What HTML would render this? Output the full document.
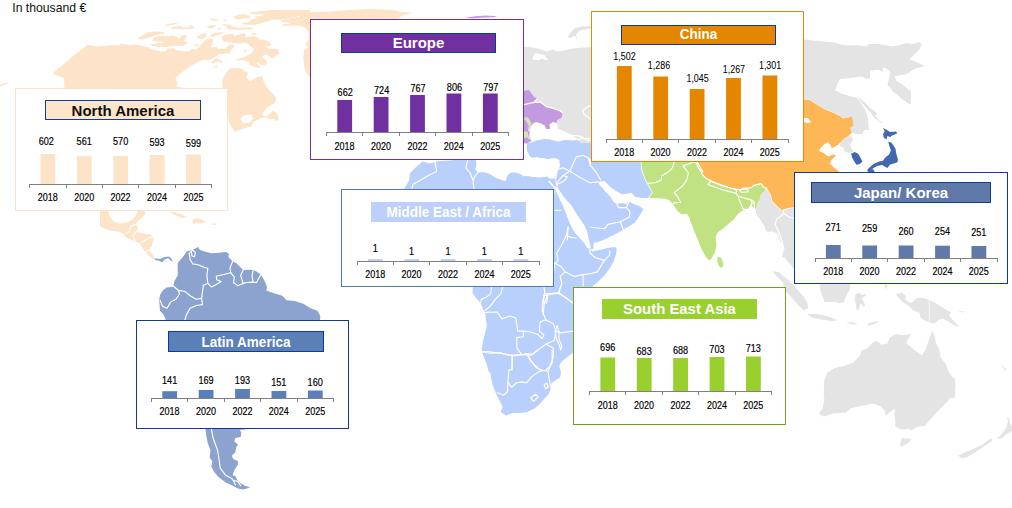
<!DOCTYPE html>
<html><head><meta charset="utf-8"><title>Regional overview</title>
<style>
html,body{margin:0;padding:0;background:#ffffff;}
body{width:1012px;height:508px;overflow:hidden;font-family:"Liberation Sans",sans-serif;}
svg{display:block;font-family:"Liberation Sans",sans-serif;}
</style></head>
<body>
<svg width="1012" height="508" viewBox="0 0 1012 508">
<rect width="1012" height="508" fill="#ffffff"/>
<g id="map">
<path d="M64.5 90.0 L64.0 78.0 L53.0 74.0 L53.5 72.5 L60.0 67.0 L67.0 61.2 L75.0 54.5 L87.5 45.0 L97.5 46.5 L110.0 45.5 L120.0 45.0 L122.5 90.0Z" fill="#fde4c8"/>
<path d="M0.0 84.5 L7.5 82.5 L8.0 83.5 L1.2 86.0 L0.0 86.5Z" fill="#fde4c8"/>
<path d="M120.0 43.4 L130.6 45.2 L146.6 47.8 L160.7 51.7 L178.4 50.5 L190.8 52.8 L197.9 48.2 L203.2 42.5 L208.5 38.6 L213.0 39.3 L212.1 44.3 L210.3 47.8 L218.3 51.4 L213.9 54.9 L205.0 58.4 L196.1 62.9 L187.3 68.2 L179.3 74.4 L175.3 78.8 L177.6 82.3 L176.7 86.8 L187.3 88.5 L187.3 92.1 L120.0 92.1Z" fill="#fde4c8"/>
<path d="M163.6 25.3 L169.5 23.8 L176.4 22.8 L177.4 23.8 L172.5 24.8 L166.6 26.0Z" fill="#fde4c8"/>
<path d="M170.5 27.8 L176.4 26.3 L181.4 26.3 L184.3 27.8 L189.3 27.3 L189.8 25.3 L192.7 25.3 L193.2 27.3 L195.7 27.3 L194.2 28.6 L189.3 29.0 L183.4 29.3 L177.4 28.8 L172.5 29.0Z" fill="#fde4c8"/>
<path d="M137.9 37.7 L142.8 35.2 L147.8 32.2 L154.7 31.2 L164.6 32.2 L163.6 33.7 L157.7 34.7 L152.7 36.2 L148.8 37.7 L143.8 39.2 L139.9 39.6Z" fill="#fde4c8"/>
<path d="M152.2 38.2 L157.7 36.2 L163.6 35.9 L169.5 36.2 L173.5 35.7 L177.4 37.2 L179.4 38.7 L182.4 35.2 L186.3 34.9 L186.8 36.7 L185.3 39.2 L183.9 41.1 L186.3 42.1 L188.3 43.4 L185.3 44.6 L183.4 46.1 L179.4 45.8 L174.5 46.1 L169.5 46.4 L162.6 47.1 L155.7 47.1 L149.8 44.6 L155.7 43.6 L163.6 42.6 L164.6 41.8 L157.7 41.4 L151.7 40.6 L153.7 39.2Z" fill="#fde4c8"/>
<path d="M195.7 36.2 L199.2 35.9 L201.1 33.7 L205.1 33.2 L207.1 34.2 L206.1 36.7 L203.1 38.7 L199.2 38.7Z" fill="#fde4c8"/>
<path d="M192.7 45.1 L197.2 44.1 L199.2 45.6 L196.2 46.6Z" fill="#fde4c8"/>
<path d="M206.6 26.3 L212.0 25.3 L216.0 25.3 L214.0 27.3 L209.1 28.8Z" fill="#fde4c8"/>
<path d="M217.5 28.8 L221.9 28.0 L220.9 29.3 L218.4 29.8Z" fill="#fde4c8"/>
<path d="M211.0 18.4 L215.0 18.9 L217.9 19.4 L217.5 20.7 L213.5 20.1Z" fill="#fde4c8"/>
<path d="M223.4 19.9 L227.3 19.7 L227.3 20.7 L223.9 20.9Z" fill="#fde4c8"/>
<path d="M222.4 24.3 L230.0 24.8 L230.0 29.8 L227.8 29.3 L226.8 26.3 L222.9 25.3Z" fill="#fde4c8"/>
<path d="M211.0 36.2 L215.0 33.7 L218.9 32.2 L223.9 32.2 L221.9 33.7 L217.0 35.2 L213.0 36.9Z" fill="#fde4c8"/>
<path d="M203.1 42.6 L206.1 39.6 L210.0 38.7 L213.0 39.6 L212.5 42.6 L210.0 44.1 L212.0 45.6 L211.0 48.0 L216.0 47.1 L217.5 48.0 L216.0 51.5 L217.9 53.5 L221.9 52.0 L225.8 49.0 L230.0 45.6 L230.0 53.5 L224.9 53.5 L218.9 54.5 L215.0 56.9 L209.1 60.0 L130.0 60.0 L130.0 45.1 L135.9 44.6 L141.9 46.1 L149.8 47.5 L145.8 49.5 L147.8 51.0 L159.6 50.7 L161.6 52.0 L166.6 50.5 L167.5 48.5 L173.5 48.3 L175.5 50.0 L181.4 51.5 L189.3 51.3 L191.3 49.0 L195.2 49.0 L192.3 53.5 L197.2 50.5 L201.1 48.0 L204.1 46.1 L203.1 44.1Z" fill="#fde4c8"/>
<path d="M221.9 35.7 L230.0 33.7 L230.0 42.6 L226.8 42.1 L222.9 41.6 L224.9 39.6 L221.9 38.7Z" fill="#fde4c8"/>
<path d="M249.5 12.5 L261.4 11.0 L273.2 10.0 L310.0 10.0 L310.0 13.0 L304.9 14.0 L298.9 15.4 L296.0 16.9 L285.1 18.9 L279.2 19.9 L273.2 19.4 L269.3 20.9 L264.3 22.4 L259.4 23.8 L255.5 24.8 L247.5 24.8 L240.6 24.3 L244.6 22.4 L249.5 21.9 L250.5 19.9 L256.4 17.9 L254.5 16.4 L263.4 15.4 L263.4 14.4 L252.5 14.0Z" fill="#fde4c8"/>
<path d="M233.2 16.4 L239.6 14.4 L245.6 14.4 L250.5 16.4 L249.5 17.9 L243.6 18.4 L239.6 19.4 L235.7 18.9Z" fill="#fde4c8"/>
<path d="M226.8 26.3 L229.8 24.8 L232.7 26.8 L239.6 27.8 L249.5 27.3 L254.5 28.3 L251.5 29.3 L242.6 29.8 L234.7 29.8 L228.8 29.3Z" fill="#fde4c8"/>
<path d="M221.9 39.6 L224.8 36.7 L229.8 34.2 L233.7 33.7 L234.2 36.2 L239.6 34.2 L244.6 33.2 L246.1 36.2 L244.6 37.7 L249.5 36.7 L254.5 36.2 L258.4 37.7 L259.4 39.6 L265.3 40.1 L269.3 42.1 L271.8 44.6 L269.3 46.1 L266.3 47.1 L269.3 49.0 L273.2 50.0 L278.2 53.5 L275.2 55.9 L272.3 58.4 L269.3 56.4 L266.3 54.0 L263.4 55.0 L262.4 57.4 L263.9 60.0 L235.7 60.0 L242.6 57.4 L247.5 55.5 L251.5 53.5 L255.0 50.5 L253.5 48.0 L250.5 46.6 L247.5 43.6 L244.6 42.6 L239.6 43.6 L233.7 43.1 L228.8 42.1 L223.8 41.6Z" fill="#fde4c8"/>
<path d="M249.5 33.2 L254.5 32.9 L256.9 34.2 L253.5 34.7Z" fill="#fde4c8"/>
<path d="M210.0 34.7 L214.0 33.2 L219.9 32.2 L223.8 32.2 L220.9 33.7 L215.9 35.7 L212.0 37.2Z" fill="#fde4c8"/>
<path d="M210.0 38.7 L212.5 39.6 L213.0 42.6 L210.0 43.6Z" fill="#fde4c8"/>
<path d="M210.0 25.8 L214.0 24.8 L215.9 25.8 L213.0 27.8 L210.0 28.8Z" fill="#fde4c8"/>
<path d="M217.9 28.3 L221.9 27.8 L219.9 29.3Z" fill="#fde4c8"/>
<path d="M210.0 49.5 L214.0 47.5 L216.9 47.1 L215.9 51.5 L219.9 52.5 L224.8 49.5 L228.8 45.1 L232.7 44.6 L235.2 46.1 L231.7 49.0 L227.8 52.5 L221.9 54.0 L217.9 54.0 L214.0 56.4 L210.0 58.4Z" fill="#fde4c8"/>
<path d="M243.6 50.5 L247.5 49.3 L246.6 51.0 L244.1 51.7Z" fill="#fde4c8"/>
<path d="M210.0 18.9 L214.0 18.9 L217.9 19.9 L216.9 20.7 L212.0 20.4Z" fill="#fde4c8"/>
<path d="M222.8 19.9 L226.8 19.7 L225.8 20.7Z" fill="#fde4c8"/>
<path d="M234.7 59.9 L242.6 58.4 L247.5 56.9 L251.5 53.5 L254.5 49.0 L278.2 49.0 L279.2 54.0 L275.2 55.9 L272.3 57.9 L269.3 55.4 L266.3 54.0 L262.9 55.4 L262.4 57.4 L265.3 59.4 L267.3 61.9 L266.3 64.8 L264.3 65.8 L260.4 64.3 L256.4 62.4 L259.4 66.3 L260.4 68.3 L256.4 67.3 L251.5 65.8 L248.5 64.8 L249.5 62.8 L246.6 60.9 L242.6 59.9 L238.7 60.7Z" fill="#fde4c8"/>
<path d="M210.0 58.9 L214.0 55.9 L218.9 54.0 L224.8 53.0 L230.8 51.5 L231.7 49.0 L210.0 49.0Z" fill="#fde4c8"/>
<path d="M211.0 62.8 L214.0 59.9 L216.9 57.9 L219.9 59.4 L222.8 61.9 L221.9 63.3 L218.9 61.4 L215.9 61.9 L213.0 63.8Z" fill="#fde4c8"/>
<path d="M214.0 67.3 L216.9 65.8 L217.9 66.8 L214.9 68.0Z" fill="#fde4c8"/>
<path d="M221.9 79.6 L226.3 76.7 L228.3 69.8 L230.3 68.3 L235.7 68.8 L239.6 68.3 L243.6 70.8 L248.0 72.7 L247.1 75.7 L246.1 78.7 L249.5 81.6 L253.5 80.1 L257.4 78.2 L261.4 75.9 L262.9 80.6 L264.3 84.6 L263.4 88.0 L266.3 90.0 L269.3 92.0 L272.7 93.5 L273.7 96.4 L275.7 97.9 L276.0 100.0 L226.8 100.0 L226.8 88.5 L222.4 88.0 L222.8 82.6Z" fill="#fde4c8"/>
<path d="M280.2 20.4 L285.7 19.2 L292.0 18.0 L296.8 17.6 L299.9 16.8 L299.1 15.6 L296.8 14.8 L301.5 13.7 L307.8 12.5 L314.1 11.9 L331.4 11.7 L331.4 45.9 L305.8 45.9 L305.4 44.0 L307.0 42.0 L309.8 39.6 L309.4 38.1 L307.0 38.5 L309.0 36.5 L308.6 33.3 L307.4 30.2 L305.4 27.4 L301.5 25.9 L293.6 25.6 L284.2 25.9 L281.8 24.3 L290.9 23.9 L290.5 22.7 L281.8 21.9Z" fill="#fde4c8"/>
<path d="M268.4 10.1 L309.4 10.1 L309.4 10.7 L303.9 11.7 L297.6 12.9 L292.0 14.4 L285.7 16.0 L279.4 16.8 L273.1 18.0 L273.1 19.6 L268.4 20.0Z" fill="#fde4c8"/>
<path d="M330.0 11.5 L350.0 10.0 L370.0 9.0 L395.0 10.0 L400.0 12.0 L413.0 12.5 L402.0 15.5 L398.0 19.5 L330.0 19.5Z" fill="#fde4c8"/>
<path d="M312.1 37.2 L309.4 38.1 L307.7 47.8 L304.1 50.5 L303.2 58.4 L305.0 70.8 L312.1 79.7Z" fill="#fde4c8"/>
<path d="M226.9 88.3 L222.1 84.8 L223.0 77.7 L226.6 72.4 L229.2 68.9 L235.4 68.0 L242.5 68.9 L245.2 72.4 L246.9 77.7 L249.6 81.3 L253.1 79.5 L258.4 76.8 L262.0 75.9 L262.9 79.5 L265.5 84.8 L269.1 90.1 L274.4 95.4 L276.1 98.1 L275.3 102.5 L270.8 105.2 L267.3 107.8 L263.8 111.4 L262.0 114.9 L265.5 116.7 L270.8 113.1 L272.6 110.5 L276.1 113.1 L278.8 116.7 L277.9 120.2 L275.3 121.1 L274.4 118.4 L269.9 119.3 L265.5 117.6 L260.2 118.4 L253.1 122.0 L251.4 126.4 L244.3 128.2 L235.4 131.7 L233.6 129.9 L231.0 126.4 L229.2 122.0 L228.3 118.4 L224.8 118.4 L224.8 88.3Z" fill="#fde4c8"/>
<path d="M240.4 118.8 L244.3 115.3 L251.4 114.2 L253.1 118.4 L249.6 122.3 L243.4 123.4Z" fill="#ffffff"/>
<path d="M100.0 209.8 L108.0 209.8 L109.7 216.6 L114.2 221.9 L119.5 223.6 L126.6 222.8 L131.9 220.1 L135.4 216.6 L137.2 213.0 L138.1 209.8 L144.3 209.8 L145.2 213.9 L141.6 218.3 L138.1 221.0 L135.4 224.5 L138.1 227.2 L136.3 231.6 L142.5 233.4 L150.5 234.3 L154.0 236.4 L153.1 241.4 L151.4 246.7 L148.7 250.2 L151.4 252.9 L154.0 256.4 L154.9 259.1 L152.2 259.1 L147.8 254.6 L144.3 251.1 L141.6 246.7 L139.8 243.1 L135.4 241.4 L130.1 239.6 L125.7 236.9 L123.0 233.4 L117.7 231.6 L110.6 230.7 L105.3 229.0 L100.0 226.3Z" fill="#fde4c8"/>
<path d="M135.4 224.5 L131.0 226.3 L129.2 231.6 L125.7 233.4" fill="none" stroke="#ffffff" stroke-width="1.15" stroke-linejoin="round" stroke-linecap="round"/>
<path d="M136.3 231.6 L132.8 236.0 L135.4 240.5" fill="none" stroke="#ffffff" stroke-width="1.15" stroke-linejoin="round" stroke-linecap="round"/>
<path d="M154.0 236.4 L147.8 238.7 L141.6 242.2" fill="none" stroke="#ffffff" stroke-width="1.15" stroke-linejoin="round" stroke-linecap="round"/>
<path d="M148.7 250.2 L145.2 252.0" fill="none" stroke="#ffffff" stroke-width="1.15" stroke-linejoin="round" stroke-linecap="round"/>
<path d="M170.8 211.3 L177.9 213.0 L186.8 216.6 L183.2 218.3 L176.1 215.7 L170.8 213.0Z" fill="#fde4c8"/>
<path d="M193.0 219.2 L199.2 218.3 L206.3 221.9 L200.9 223.6 L196.5 222.8 L193.9 224.5 L192.1 221.9Z" fill="#fde4c8"/>
<path d="M211.6 223.5 L216.0 223.5 L216.0 224.7 L211.6 224.7Z" fill="#fde4c8"/>
<path d="M154.9 258.2 L160.2 259.1 L164.6 256.9 L169.1 256.4 L171.7 259.1 L172.6 261.7 L170.8 260.8 L168.2 258.2 L164.6 259.4 L162.0 262.6 L159.3 260.8 L154.9 259.9Z" fill="#8ca3cf"/>
<path d="M167.1 323.2 L163.5 314.4 L160.0 310.8 L159.1 300.2 L160.0 294.9 L162.7 290.5 L167.1 286.9 L173.3 286.0 L174.2 281.6 L177.7 275.4 L177.7 263.0 L183.0 256.8 L186.6 251.5 L192.8 249.7 L198.1 247.1 L199.8 249.7 L204.3 251.5 L211.4 253.3 L218.4 252.8 L226.4 252.0 L229.1 254.2 L228.2 256.8 L232.6 261.3 L236.1 263.0 L240.6 267.4 L243.2 270.1 L250.3 269.8 L255.6 271.0 L260.9 274.5 L264.5 280.7 L267.1 286.9 L266.3 290.5 L273.3 293.1 L282.2 295.8 L286.6 300.2 L294.6 301.1 L303.4 303.8 L310.5 308.2 L317.6 310.8 L320.3 316.1 L319.9 323.2Z" fill="#8ca3cf"/>
<path d="M192.8 249.7 L189.2 253.3 L190.1 259.5 L192.8 263.9 L198.1 264.8 L204.3 267.4 L207.8 268.3 L206.9 275.4 L207.8 283.4 L203.4 285.2" fill="none" stroke="#ffffff" stroke-width="1.15" stroke-linejoin="round" stroke-linecap="round"/>
<path d="M192.8 250.3 L195.4 252.4 L194.5 256.8 L191.9 255.9 L191.5 252.4" fill="none" stroke="#ffffff" stroke-width="1.15" stroke-linejoin="round" stroke-linecap="round"/>
<path d="M207.8 283.4 L211.4 286.9 L216.7 284.3 L221.1 281.6 L216.7 279.8 L216.3 276.3 L223.8 274.5 L230.8 272.8 L229.9 268.3 L232.6 261.3" fill="none" stroke="#ffffff" stroke-width="1.15" stroke-linejoin="round" stroke-linecap="round"/>
<path d="M230.8 272.8 L234.4 277.2 L233.5 282.5 L237.9 285.7 L243.2 283.4 L246.8 282.5 L252.1 282.1 L256.5 282.5 L260.9 274.5" fill="none" stroke="#ffffff" stroke-width="1.15" stroke-linejoin="round" stroke-linecap="round"/>
<path d="M243.2 283.4 L240.6 275.4 L243.2 270.1" fill="none" stroke="#ffffff" stroke-width="1.15" stroke-linejoin="round" stroke-linecap="round"/>
<path d="M253.0 282.1 L252.1 275.4 L253.0 271.0" fill="none" stroke="#ffffff" stroke-width="1.15" stroke-linejoin="round" stroke-linecap="round"/>
<path d="M167.1 286.9 L173.3 286.0 L178.6 290.5 L179.5 294.0 L175.9 299.3 L170.6 302.0 L167.1 308.2 L162.7 306.4 L160.0 300.2" fill="none" stroke="#ffffff" stroke-width="1.15" stroke-linejoin="round" stroke-linecap="round"/>
<path d="M178.6 290.5 L184.8 291.4 L190.1 295.8 L196.3 299.3 L201.6 298.4 L203.4 285.2" fill="none" stroke="#ffffff" stroke-width="1.15" stroke-linejoin="round" stroke-linecap="round"/>
<path d="M201.6 298.4 L202.5 304.6 L196.3 305.5 L190.1 308.2 L186.6 314.4 L184.8 320.0" fill="none" stroke="#ffffff" stroke-width="1.15" stroke-linejoin="round" stroke-linecap="round"/>
<path d="M205.2 425.6 L206.0 434.5 L207.8 443.3 L210.5 450.4 L209.6 457.5 L212.2 461.0 L211.4 466.4 L214.0 471.7 L218.4 477.0 L225.5 482.3 L232.6 485.8 L237.9 488.5 L243.2 489.4 L250.3 487.6 L245.0 485.8 L240.6 483.2 L237.0 479.6 L235.3 476.1 L232.6 475.2 L234.4 469.9 L237.9 464.6 L237.9 461.0 L233.5 459.3 L231.7 455.7 L235.3 452.2 L236.1 447.8 L237.9 444.2 L234.4 441.6 L235.3 438.0 L240.6 437.1 L241.5 432.7 L239.7 430.1 L251.2 428.8 L251.2 425.6Z" fill="#8ca3cf"/>
<path d="M211.4 428.8 L213.1 438.0 L217.6 450.4 L219.3 461.0 L220.2 468.1 L225.5 475.2 L230.8 477.9 L233.5 480.5 L235.3 484.9" fill="none" stroke="#ffffff" stroke-width="1.15" stroke-linejoin="round" stroke-linecap="round"/>
<path d="M233.5 480.5 L237.9 481.4 L240.6 485.8" fill="none" stroke="#ffffff" stroke-width="1.15" stroke-linejoin="round" stroke-linecap="round"/>
<path d="M521.5 46.4 L530.3 46.9 L539.2 48.7 L546.3 51.4 L553.3 49.6 L556.9 51.4 L564.0 50.5 L571.0 48.7 L579.9 47.8 L592.3 46.9 L592.3 92.1 L521.5 92.1Z" fill="#e4e4e4"/>
<path d="M535.6 53.1 L544.5 54.9 L548.4 60.6 L540.9 58.8 L536.5 62.3 L532.1 58.4Z" fill="#ffffff"/>
<path d="M592.3 25.7 L581.7 26.6 L574.6 28.3 L570.2 32.8 L567.5 37.2 L571.0 38.1 L574.6 35.4 L577.2 39.3 L576.0 34.5 L579.9 30.5 L592.3 28.3Z" fill="#e4e4e4"/>
<path d="M464.8 17.7 L475.4 16.3 L486.0 15.6 L497.6 16.3 L493.1 17.2 L480.7 17.7 L471.9 18.6Z" fill="#c39ae0"/>
<path d="M522.7 60.0 L591.8 60.0 L591.8 150.3 L522.7 150.3Z" fill="#e4e4e4"/>
<path d="M522.7 91.0 L528.9 90.1 L531.6 93.6 L534.2 97.2 L537.8 98.1 L534.2 101.6 L529.8 103.4 L522.7 104.3Z" fill="#c39ae0"/>
<path d="M522.7 105.7 L531.6 103.4 L540.4 102.5 L545.7 106.9 L552.8 108.7 L559.9 111.4 L562.6 113.1 L561.7 117.6 L557.2 120.2 L556.4 122.9 L552.8 122.0 L549.3 124.6 L550.2 128.2 L546.6 129.1 L544.8 125.5 L540.4 122.9 L535.1 122.0 L531.6 124.6 L529.8 126.4 L526.3 120.2 L522.7 116.7Z" fill="#c39ae0"/>
<path d="M524.5 116.7 L528.0 117.6 L531.6 122.9 L529.8 125.9 L527.1 122.9Z" fill="#d3e8a4"/>
<path d="M522.7 118.4 L526.3 121.1 L528.9 126.4 L528.0 130.8 L529.8 132.6 L528.0 137.9 L531.6 140.6 L527.1 143.2 L522.7 144.1Z" fill="#c39ae0"/>
<path d="M522.7 131.2 L527.7 131.7 L528.4 137.6 L522.7 137.9Z" fill="#d3e8a4"/>
<path d="M522.7 105.0 L531.6 102.7 L540.4 102.0 L545.7 106.4 L552.8 108.2 L559.9 110.8 L562.7 112.8" fill="none" stroke="#ffffff" stroke-width="1.15" stroke-linejoin="round" stroke-linecap="round"/>
<path d="M534.2 101.6 L537.8 98.1" fill="none" stroke="#ffffff" stroke-width="1.15" stroke-linejoin="round" stroke-linecap="round"/>
<path d="M529.8 132.6 L531.6 125.9 L535.1 122.3 L540.4 123.4 L544.8 125.9 L546.6 129.4 L550.7 128.5 L549.6 124.8 L553.2 122.3 L556.7 123.2 L558.1 129.1 L565.2 131.7 L572.3 135.3 L577.6 139.7 L572.3 140.6 L565.2 139.7 L558.1 141.5 L551.0 139.7 L544.0 138.8 L536.9 140.6 L531.6 141.5Z" fill="#ffffff"/>
<path d="M544.7 125.7 L550.3 128.4 L546.8 129.2Z" fill="#c39ae0"/>
<path d="M522.7 148.5 L526.3 146.8 L531.6 143.2 L536.9 140.6 L544.0 139.3 L551.0 139.7 L558.1 141.8 L565.2 140.0 L572.3 140.8 L577.6 140.0 L581.1 143.2 L583.8 146.8 L586.5 150.3 L522.7 150.3Z" fill="#b9cffc"/>
<path d="M577.6 140.0 L582.9 137.9 L588.2 140.6 L591.8 139.7" fill="none" stroke="#ffffff" stroke-width="1.15" stroke-linejoin="round" stroke-linecap="round"/>
<path d="M572.3 135.3 L579.4 136.1 L584.7 138.8 L591.8 137.9" fill="none" stroke="#ffffff" stroke-width="1.15" stroke-linejoin="round" stroke-linecap="round"/>
<path d="M591.8 105.2 L587.3 106.9 L582.9 110.5 L583.8 114.0 L587.3 116.7 L591.8 120.2" fill="none" stroke="#ffffff" stroke-width="1.15" stroke-linejoin="round" stroke-linecap="round"/>
<path d="M801.6 39.0 L813.2 40.6 L824.8 41.8 L834.1 42.3 L843.4 45.3 L857.3 45.3 L866.6 46.4 L869.0 44.1 L878.2 44.1 L892.2 46.4 L899.2 45.3 L906.1 43.0 L913.1 44.1 L920.1 41.8 L921.7 45.3 L918.9 49.9 L914.2 54.6 L909.6 59.2 L915.4 61.5 L924.7 66.2 L915.4 68.5 L906.1 74.3 L899.2 75.5 L894.5 76.6 L896.8 81.3 L902.6 84.8 L908.4 89.4 L910.8 95.2 L909.6 104.5 L901.5 98.7 L894.5 91.7 L887.5 84.8 L888.7 80.1 L890.3 72.0 L886.4 68.5 L882.9 67.3 L882.9 72.0 L878.2 69.7 L870.1 70.8 L870.1 77.8 L866.6 79.0 L862.0 76.6 L852.7 77.8 L839.9 79.0 L837.6 83.6 L835.3 89.4 L833.7 92.9 L838.8 94.8 L848.1 95.7 L855.0 98.7 L859.7 102.2 L863.2 106.8 L865.5 111.5 L867.8 118.0 L869.0 130.1 L801.6 130.1Z" fill="#e4e4e4"/>
<path d="M858.5 97.5 L864.3 102.2 L871.3 109.2 L877.1 113.8 L874.8 116.1 L869.0 110.3 L862.0 103.3Z" fill="#e4e4e4"/>
<path d="M800.6 98.9 L809.5 99.7 L816.6 104.2 L825.4 109.5 L832.5 112.1 L839.6 115.7 L843.1 118.3 L848.4 117.4 L852.0 116.6 L852.9 121.0 L853.8 125.4 L850.2 128.1 L852.0 132.5 L848.4 136.0 L844.0 138.7 L841.4 141.4 L837.8 144.9 L833.4 147.6 L831.6 148.4 L830.7 144.9 L828.1 142.2 L824.5 144.0 L820.1 148.4 L819.2 151.1 L823.6 152.9 L828.1 156.4 L833.4 154.6 L836.0 155.5 L831.6 159.9 L829.8 163.5 L833.4 167.0 L837.8 170.6 L841.4 175.0 L736.9 175.0 L736.9 98.9Z" fill="#fdb757"/>
<path d="M800.6 98.3 L809.5 99.2 L816.6 103.6 L825.4 108.9 L832.5 111.6 L839.6 115.1 L843.1 117.8" fill="none" stroke="#ffffff" stroke-width="1.2" stroke-linejoin="round" stroke-linecap="round"/>
<path d="M802.8 117.4 L807.7 118.3 L811.3 121.9 L807.7 122.9 L802.8 121.9Z" fill="#ffffff"/>
<path d="M800.6 90.0 L834.3 90.0 L841.4 93.5 L850.2 96.2 L857.3 98.0 L860.8 103.3 L864.4 108.6 L867.0 114.8 L866.5 121.9 L865.3 128.1 L862.6 133.4 L858.2 134.3 L853.8 133.4 L852.0 132.5 L850.2 128.1 L853.8 125.4 L852.9 121.0 L852.0 116.6 L848.4 117.4 L843.1 118.3 L839.6 115.7 L832.5 112.1 L825.4 109.5 L816.6 104.2 L809.5 99.7 L800.6 98.9Z" fill="#e4e4e4"/>
<path d="M841.4 141.4 L844.0 138.7 L848.4 136.0 L852.0 136.4 L852.9 140.5 L850.2 144.0 L851.1 148.4 L853.8 151.1 L850.2 152.9 L844.9 152.0 L843.1 147.6 L839.6 145.8Z" fill="#e4e4e4"/>
<path d="M858.2 97.1 L862.6 100.6 L869.7 107.7 L876.8 113.0 L875.0 114.8 L878.5 120.1 L883.0 123.6 L880.3 122.8 L875.0 118.3 L867.9 109.5 L860.8 101.5Z" fill="#e4e4e4"/>
<path d="M890.9 90.0 L910.4 90.0 L911.3 95.3 L910.4 100.6 L911.3 104.2 L906.9 101.5 L899.8 96.2 L894.5 92.7Z" fill="#e4e4e4"/>
<path d="M883.0 128.1 L886.5 129.8 L890.1 132.1 L896.3 131.6 L897.1 133.4 L892.7 135.2 L890.1 136.9 L887.4 136.0 L886.5 139.6 L883.9 137.8 L883.0 134.3 L884.7 131.6Z" fill="#4268b0"/>
<path d="M888.3 141.4 L891.8 143.1 L895.4 148.4 L896.3 153.8 L898.0 159.9 L897.1 162.6 L893.6 163.5 L890.1 164.4 L887.4 167.9 L884.7 166.5 L882.1 165.1 L877.1 166.1 L873.6 167.9 L870.9 170.2 L867.9 171.8 L867.2 169.7 L870.0 166.9 L873.6 164.0 L878.5 161.7 L883.0 160.8 L884.7 158.2 L886.5 156.4 L889.2 154.6 L890.9 150.2 L889.2 145.8Z" fill="#4268b0"/>
<path d="M868.8 169.7 L873.2 169.3 L875.4 173.2 L867.6 173.2Z" fill="#4268b0"/>
<path d="M851.1 153.8 L854.6 152.0 L858.2 153.8 L860.8 158.2 L862.3 161.7 L859.9 164.0 L856.4 164.7 L853.8 160.8 L852.0 157.3Z" fill="#4268b0"/>
<path d="M640.6 160.6 L697.3 160.6 L699.9 166.8 L702.6 171.3 L701.7 173.9 L706.1 178.3 L713.2 181.9 L722.1 185.4 L730.9 188.1 L739.8 189.8 L743.3 188.1 L750.4 188.1 L754.0 185.4 L761.0 183.6 L763.7 187.2 L766.4 188.1 L764.6 191.6 L761.0 194.3 L760.2 198.7 L757.5 203.1 L756.6 207.6 L754.8 211.1 L753.1 206.7 L750.4 204.9 L748.6 209.3 L745.1 210.2 L741.6 211.1 L736.3 215.5 L730.9 219.9 L726.5 224.4 L722.1 228.8 L717.7 232.3 L715.0 236.8 L714.6 240.0 L698.2 240.0 L695.5 233.2 L692.0 224.4 L689.3 217.3 L686.7 213.8 L681.4 214.6 L676.9 210.2 L673.4 204.9 L669.8 200.5 L665.4 198.7 L656.6 198.2 L649.5 198.2 L648.6 196.0 L652.1 192.5 L649.5 188.1 L645.9 183.6 L643.3 176.6 L640.6 169.5Z" fill="#c0e283"/>
<path d="M690.0 210.0 L741.4 210.0 L737.8 213.5 L734.3 218.9 L728.1 224.2 L721.9 229.5 L716.6 233.0 L715.7 238.3 L716.6 245.4 L714.8 252.5 L711.3 258.7 L709.5 260.5 L705.9 256.9 L701.5 249.0 L698.0 240.1 L694.4 231.3 L691.8 224.2 L690.0 220.6Z" fill="#c0e283"/>
<path d="M718.0 256.4 L721.0 257.8 L723.3 263.1 L722.8 267.0 L720.1 267.6 L718.0 264.0 L717.1 259.6Z" fill="#c0e283"/>
<path d="M674.3 162.0 L672.5 167.7 L668.1 172.1 L661.9 175.7 L661.0 180.1 L654.8 182.8 L645.9 183.6" fill="none" stroke="#ffffff" stroke-width="1.15" stroke-linejoin="round" stroke-linecap="round"/>
<path d="M683.1 165.9 L688.4 173.0 L686.7 180.1 L682.2 186.3 L674.3 192.5 L677.8 196.9 L680.5 202.2 L673.4 203.1" fill="none" stroke="#ffffff" stroke-width="1.15" stroke-linejoin="round" stroke-linecap="round"/>
<path d="M683.1 165.9 L687.6 164.2 L693.8 162.0 L696.4 163.3 L698.2 167.7 L701.7 172.1" fill="none" stroke="#ffffff" stroke-width="1.15" stroke-linejoin="round" stroke-linecap="round"/>
<path d="M707.9 184.5 L710.6 181.0 L722.1 185.4 L736.3 189.8 L736.3 193.4 L722.1 189.8 L707.9 184.5" fill="none" stroke="#ffffff" stroke-width="1.15" stroke-linejoin="round" stroke-linecap="round"/>
<path d="M738.0 196.0 L743.3 197.8 L750.4 199.6 L752.2 203.1 L748.6 209.3 L743.3 209.3 L739.8 201.4 L738.0 196.0" fill="none" stroke="#ffffff" stroke-width="1.15" stroke-linejoin="round" stroke-linecap="round"/>
<path d="M739.8 189.8 L746.9 189.0 L748.6 191.6 L741.6 192.5 L739.8 189.8" fill="none" stroke="#ffffff" stroke-width="1.15" stroke-linejoin="round" stroke-linecap="round"/>
<path d="M736.3 193.4 L738.0 196.0" fill="none" stroke="#ffffff" stroke-width="1.15" stroke-linejoin="round" stroke-linecap="round"/>
<path d="M750.4 199.6 L754.0 201.4 L754.8 211.1" fill="none" stroke="#ffffff" stroke-width="1.15" stroke-linejoin="round" stroke-linecap="round"/>
<path d="M640.6 162.0 L640.6 169.5 L643.3 176.6 L645.9 183.6 L649.5 188.1 L652.1 192.5 L648.6 196.0 L647.7 198.2" fill="none" stroke="#ffffff" stroke-width="1.15" stroke-linejoin="round" stroke-linecap="round"/>
<path d="M697.3 160.6 L800.0 160.6 L800.0 172.0 L796.5 172.0 L796.5 207.6 L789.4 208.4 L785.8 209.3 L782.3 211.1 L778.8 208.4 L775.2 204.9 L771.7 201.4 L770.8 196.0 L768.1 191.6 L766.4 188.1 L763.7 187.2 L761.0 183.6 L754.0 185.4 L750.4 188.1 L743.3 188.1 L739.8 189.8 L730.9 188.1 L722.1 185.4 L713.2 181.9 L706.1 178.3 L701.7 173.9 L702.6 171.3 L699.9 166.8Z" fill="#fdb757"/>
<path d="M697.3 162.0 L699.9 166.8 L702.6 171.3 L701.7 173.9 L706.1 178.3 L713.2 181.9 L722.1 185.4 L730.9 188.1 L739.8 189.8 L743.3 188.1 L750.4 188.1 L754.0 185.4 L761.0 183.6 L763.7 187.2 L766.4 188.1 L768.1 191.6 L770.8 196.0 L771.7 201.4 L775.2 204.9 L778.8 208.4 L782.3 211.1 L785.8 209.3 L789.4 208.4 L796.5 207.6" fill="none" stroke="#ffffff" stroke-width="1.15" stroke-linejoin="round" stroke-linecap="round"/>
<path d="M766.4 188.1 L768.1 191.6 L770.8 196.0 L771.7 201.4 L775.2 204.9 L778.8 208.4 L782.3 211.1 L785.8 209.3 L796.5 207.6 L796.5 242.1 L780.5 242.1 L777.0 233.2 L771.7 231.5 L768.1 227.9 L764.6 220.8 L760.2 216.4 L756.6 212.0 L756.6 207.6 L757.5 203.1 L760.2 198.7 L761.0 194.3 L764.6 191.6Z" fill="#e4e4e4"/>
<path d="M782.3 211.1 L780.5 215.5 L775.2 220.8 L774.3 224.4 L777.0 229.7 L780.5 240.0" fill="none" stroke="#ffffff" stroke-width="1.15" stroke-linejoin="round" stroke-linecap="round"/>
<path d="M785.8 209.3 L787.6 213.8 L784.1 217.3 L786.7 220.8 L785.8 225.3 L794.0 226.1" fill="none" stroke="#ffffff" stroke-width="1.15" stroke-linejoin="round" stroke-linecap="round"/>
<path d="M755.5 210.0 L796.3 210.0 L796.3 270.2 L791.8 266.7 L789.2 263.1 L786.5 260.5 L784.7 257.8 L782.1 256.9 L783.0 252.5 L784.7 248.1 L782.1 243.6 L780.3 240.1 L778.5 234.8 L776.8 230.4 L773.2 229.5 L769.7 232.1 L766.1 231.3 L764.4 225.9 L760.8 220.6 L757.3 215.3Z" fill="#e4e4e4"/>
<path d="M783.9 210.0 L782.1 215.3 L776.8 218.9 L775.0 224.2 L778.5 231.3 L781.2 238.3 L783.0 245.4" fill="none" stroke="#ffffff" stroke-width="1.15" stroke-linejoin="round" stroke-linecap="round"/>
<path d="M783.9 213.5 L789.2 217.1 L793.9 218.0" fill="none" stroke="#ffffff" stroke-width="1.15" stroke-linejoin="round" stroke-linecap="round"/>
<path d="M772.3 271.1 L778.5 272.0 L783.9 276.4 L789.2 280.8 L794.5 286.1 L798.9 291.5 L803.3 296.8 L805.1 302.1 L796.3 302.1 L793.6 295.0 L789.2 289.7 L784.7 284.4 L779.4 279.1 L775.0 274.6Z" fill="#e4e4e4"/>
<path d="M820.2 285.3 L849.4 284.4 L850.3 289.7 L845.8 293.2 L842.3 298.5 L837.0 302.1 L824.6 302.1 L821.9 293.2Z" fill="#e4e4e4"/>
<path d="M783.5 282.1 L789.4 285.6 L795.4 289.2 L802.4 295.1 L807.2 302.2 L808.3 308.1 L803.6 310.4 L797.7 304.5 L791.8 297.4 L783.5 289.2Z" fill="#e4e4e4"/>
<path d="M807.2 314.0 L815.4 314.0 L824.9 315.6 L834.3 318.7 L837.9 320.4 L830.8 321.1 L821.3 319.4 L811.9 317.5Z" fill="#e4e4e4"/>
<path d="M846.1 321.8 L853.2 322.2 L858.0 324.6 L850.9 324.1Z" fill="#e4e4e4"/>
<path d="M867.4 323.4 L874.5 321.8 L879.2 321.1 L874.5 324.1 L868.6 325.8Z" fill="#e4e4e4"/>
<path d="M820.2 282.1 L850.9 282.1 L849.7 289.2 L846.1 296.3 L843.8 302.2 L839.1 303.3 L834.3 301.0 L827.2 301.0 L822.5 296.3 L820.2 289.2Z" fill="#e4e4e4"/>
<path d="M855.6 293.9 L860.3 292.7 L861.5 295.1 L866.2 293.9 L865.0 296.3 L861.5 298.6 L865.0 304.5 L863.9 306.9 L860.3 303.3 L859.1 309.3 L856.8 310.4 L855.6 303.3 L854.4 298.6Z" fill="#e4e4e4"/>
<path d="M883.9 284.4 L887.5 285.6 L886.3 289.6Z" fill="#e4e4e4"/>
<path d="M895.8 293.9 L901.7 292.7 L906.4 296.3 L905.2 299.8 L911.1 303.3 L915.8 298.6 L921.7 297.4 L928.8 299.8 L935.9 303.3 L945.4 309.3 L951.3 312.8 L948.9 315.2 L953.6 321.1 L959.5 327.0 L954.8 325.8 L947.7 321.1 L943.0 318.7 L938.3 319.9 L934.7 323.4 L928.8 322.2 L924.1 319.9 L920.6 317.5 L919.4 312.8 L913.5 310.4 L908.8 305.7 L902.8 302.2 L899.3 298.6Z" fill="#e4e4e4"/>
<path d="M929.3 299.3 L929.3 322.7" fill="none" stroke="#ffffff" stroke-width="0.8" stroke-linejoin="round" stroke-linecap="round"/>
<path d="M823.7 397.8 L824.4 381.3 L827.2 373.0 L834.3 368.3 L843.8 366.0 L853.2 362.4 L860.3 355.3 L861.5 350.6 L867.4 348.2 L873.3 342.3 L876.9 341.1 L881.6 344.7 L887.5 343.5 L889.9 337.6 L895.8 334.1 L902.8 335.2 L911.1 334.1 L907.6 340.0 L906.4 343.5 L912.3 348.2 L918.2 353.0 L921.7 355.3 L925.3 350.6 L927.6 343.5 L930.0 336.4 L932.4 330.5 L934.7 336.4 L935.9 343.5 L939.5 349.4 L940.6 357.7 L945.4 363.6 L948.9 371.9 L953.6 378.9 L955.3 386.0 L954.8 397.8Z" fill="#e4e4e4"/>
<path d="M957.2 310.4 L964.3 311.6 L966.6 309.3 L963.1 312.8Z" fill="#e4e4e4"/>
<path d="M1000.9 364.3 L1006.8 369.5 L1005.6 370.7Z" fill="#e4e4e4"/>
<path d="M824.9 377.8 L823.8 388.7 L824.3 399.5 L822.7 408.2 L819.1 413.6 L823.8 416.8 L832.5 413.6 L845.5 412.5 L850.9 408.2 L862.8 405.6 L873.6 403.8 L880.1 406.0 L884.5 410.3 L885.5 415.7 L890.9 411.4 L895.3 408.2 L894.2 414.6 L895.3 421.1 L895.3 426.6 L901.8 429.8 L908.3 428.7 L911.5 430.2 L918.0 426.6 L924.5 425.9 L929.9 420.1 L936.4 412.5 L942.9 406.0 L948.3 400.6 L952.7 393.0 L955.5 386.5 L954.8 377.8Z" fill="#e4e4e4"/>
<path d="M901.8 438.0 L911.5 438.9 L908.3 443.2 L900.7 447.1 L900.0 442.8Z" fill="#e4e4e4"/>
<path d="M958.1 455.8 L964.6 452.5 L973.2 448.9 L981.9 445.0 L990.6 438.5 L992.7 440.6 L986.2 445.0 L977.6 450.4 L967.8 456.9 L962.4 458.4Z" fill="#e4e4e4"/>
<path d="M997.1 438.9 L1002.5 433.1 L1006.8 426.6 L1007.9 420.1 L1006.8 416.8 L1009.0 417.9 L1010.0 423.3 L1012.0 426.6 L1012.0 430.9 L1006.8 434.1 L1001.4 438.5Z" fill="#e4e4e4"/>
<path d="M403.0 190.8 L409.2 180.2 L410.1 173.1 L415.4 167.8 L422.5 161.6 L429.6 163.4 L434.9 162.1 L440.2 161.1 L450.8 160.4 L465.0 158.1 L475.6 158.1 L476.5 164.3 L475.6 168.7 L478.3 172.2 L484.5 172.2 L489.8 174.0 L495.1 177.6 L502.2 180.2 L505.7 181.1 L507.5 174.9 L511.9 172.2 L518.1 173.1 L523.4 175.8 L530.5 176.7 L539.4 177.6 L546.5 176.7 L550.0 178.4 L557.1 178.4 L557.1 190.8Z" fill="#b9cffc"/>
<path d="M434.9 162.1 L436.7 171.4 L427.8 175.8 L419.0 181.1 L412.8 184.6 L411.9 189.1" fill="none" stroke="#ffffff" stroke-width="1.15" stroke-linejoin="round" stroke-linecap="round"/>
<path d="M467.7 159.8 L465.9 167.8 L470.3 173.1 L473.0 180.2 L473.9 189.1" fill="none" stroke="#ffffff" stroke-width="1.15" stroke-linejoin="round" stroke-linecap="round"/>
<path d="M475.6 168.7 L478.3 172.2 L474.7 176.7 L473.0 180.2" fill="none" stroke="#ffffff" stroke-width="1.15" stroke-linejoin="round" stroke-linecap="round"/>
<path d="M523.4 175.8 L524.3 189.1" fill="none" stroke="#ffffff" stroke-width="1.15" stroke-linejoin="round" stroke-linecap="round"/>
<path d="M527.0 146.6 L530.5 143.9 L537.6 142.1 L544.7 140.4 L550.0 139.5 L550.0 158.1 L544.7 157.2 L539.4 158.1 L535.8 155.4 L530.5 154.5 L527.9 151.0Z" fill="#b9cffc"/>
<path d="M519.4 142.9 L590.9 142.9 L590.9 160.6 L640.7 160.6 L641.6 169.5 L645.1 179.2 L652.2 192.5 L648.6 198.2 L639.8 197.8 L634.5 196.4 L632.7 192.5 L628.3 193.4 L622.1 194.3 L616.8 191.6 L611.5 188.1 L607.9 184.5 L604.4 181.0 L598.2 181.9 L599.9 185.4 L602.6 188.1 L606.1 192.5 L610.6 196.9 L613.2 201.4 L616.8 204.0 L622.1 203.1 L626.5 204.0 L629.2 201.4 L631.8 203.1 L636.3 204.9 L640.7 206.7 L643.3 209.3 L640.7 213.8 L638.0 218.2 L634.5 222.6 L629.2 226.1 L623.9 228.8 L618.5 230.6 L613.2 232.3 L607.9 234.1 L600.8 236.8 L595.5 238.5 L591.1 240.0 L590.2 240.0 L589.3 233.2 L586.7 227.9 L583.1 222.6 L578.7 217.3 L575.2 211.1 L571.6 205.8 L565.4 200.5 L560.1 193.4 L556.6 188.1 L553.0 185.4 L548.6 181.9 L550.4 179.2 L554.8 179.2 L556.6 174.8 L558.3 169.5 L560.1 165.9 L559.2 159.7 L554.8 158.0 L547.7 158.9 L538.9 157.1 L530.0 158.0 L519.4 158.0Z" fill="#b9cffc"/>
<path d="M588.4 223.2 L591.1 230.3 L589.3 235.6 L591.1 242.7 L597.3 242.2 L604.4 239.5 L611.5 236.0 L618.5 232.4 L623.9 228.9 L630.9 225.0 L636.3 221.5Z" fill="#b9cffc"/>
<path d="M519.4 176.6 L530.0 176.6 L533.5 177.4 L540.6 178.3 L547.7 176.6 L548.6 181.9 L551.3 187.2 L553.9 191.6 L556.6 196.0 L560.1 203.1 L562.8 205.8 L565.4 211.1 L567.2 217.3 L569.8 222.6 L572.5 227.0 L576.0 229.7 L579.6 235.0 L583.1 240.0 L583.1 249.2 L519.4 249.2Z" fill="#b9cffc"/>
<path d="M571.6 223.2 L576.0 232.1 L581.4 238.3 L586.7 243.6 L589.3 247.1 L592.0 251.6 L600.8 249.8 L607.9 248.0 L615.0 247.1 L616.8 248.9 L615.9 255.1 L613.2 262.2 L609.7 268.4 L604.4 275.5 L599.1 280.8 L593.8 285.2 L590.2 288.8 L583.1 299.4 L581.4 317.1 L512.3 317.1 L512.3 223.2Z" fill="#b9cffc"/>
<path d="M472.9 282.5 L472.5 292.8 L475.7 297.4 L480.4 303.0 L483.2 309.6 L485.0 312.4 L486.0 319.9 L486.9 325.5 L485.0 332.9 L483.2 340.4 L481.9 347.0 L482.2 351.6 L484.1 357.2 L486.9 364.7 L488.8 372.2 L557.9 372.2 L558.9 364.7 L562.6 361.0 L568.2 356.3 L574.8 351.6 L574.8 282.5Z" fill="#b9cffc"/>
<path d="M481.4 348.2 L483.1 355.3 L486.7 362.4 L490.2 371.3 L491.1 378.3 L492.9 385.4 L495.5 392.5 L498.2 397.8 L500.8 403.1 L502.6 406.7 L500.8 412.0 L506.1 415.5 L513.2 412.9 L520.3 412.9 L527.4 412.0 L534.5 408.4 L539.8 404.0 L544.2 398.7 L548.6 394.3 L550.4 389.8 L551.3 383.6 L555.7 380.1 L560.2 377.4 L561.0 372.1 L559.3 366.8 L560.2 362.4 L564.6 358.0 L569.9 353.5 L574.3 350.9 L574.3 348.2Z" fill="#b9cffc"/>
<path d="M556.6 188.1 L558.3 181.0 L562.8 175.7 L569.8 171.3 L573.4 163.3 L576.0 157.1 L583.1 155.3 L588.4 158.0 L590.9 160.6" fill="none" stroke="#ffffff" stroke-width="1.15" stroke-linejoin="round" stroke-linecap="round"/>
<path d="M569.8 171.3 L581.4 178.3 L590.2 182.8 L598.2 181.9" fill="none" stroke="#ffffff" stroke-width="1.15" stroke-linejoin="round" stroke-linecap="round"/>
<path d="M590.2 165.1 L595.5 171.3 L600.8 180.1" fill="none" stroke="#ffffff" stroke-width="1.15" stroke-linejoin="round" stroke-linecap="round"/>
<path d="M588.4 158.0 L590.2 165.1 L590.9 160.6" fill="none" stroke="#ffffff" stroke-width="1.15" stroke-linejoin="round" stroke-linecap="round"/>
<path d="M562.8 175.7 L567.2 176.6 L565.4 180.1 L559.2 183.6" fill="none" stroke="#ffffff" stroke-width="1.15" stroke-linejoin="round" stroke-linecap="round"/>
<path d="M558.3 169.5 L562.8 167.7 L569.8 171.3" fill="none" stroke="#ffffff" stroke-width="1.15" stroke-linejoin="round" stroke-linecap="round"/>
<path d="M616.8 204.0 L618.5 207.6 L626.5 207.6 L629.2 201.4" fill="none" stroke="#ffffff" stroke-width="1.15" stroke-linejoin="round" stroke-linecap="round"/>
<path d="M626.5 207.6 L630.1 212.0 L629.2 217.3 L620.3 221.7 L607.9 224.4 L604.4 228.8 L589.3 227.0 L588.4 233.2" fill="none" stroke="#ffffff" stroke-width="1.15" stroke-linejoin="round" stroke-linecap="round"/>
<path d="M620.3 221.7 L623.0 228.8" fill="none" stroke="#ffffff" stroke-width="1.15" stroke-linejoin="round" stroke-linecap="round"/>
<path d="M640.7 160.6 L641.6 169.5 L645.1 179.2 L652.2 192.5 L648.6 198.2" fill="none" stroke="#ffffff" stroke-width="0.9" stroke-linejoin="round" stroke-linecap="round"/>
<path d="M553.0 210.2 L565.4 210.2" fill="none" stroke="#ffffff" stroke-width="1.15" stroke-linejoin="round" stroke-linecap="round"/>
<path d="M568.1 227.9 L567.2 240.0" fill="none" stroke="#ffffff" stroke-width="1.15" stroke-linejoin="round" stroke-linecap="round"/>
<path d="M568.1 226.8 L566.3 235.6 L571.6 237.4 L577.8 238.3 L583.1 241.8 L586.7 243.6" fill="none" stroke="#ffffff" stroke-width="1.15" stroke-linejoin="round" stroke-linecap="round"/>
<path d="M566.3 235.6 L561.0 246.3 L556.6 253.3 L558.3 260.4 L554.8 263.1" fill="none" stroke="#ffffff" stroke-width="1.15" stroke-linejoin="round" stroke-linecap="round"/>
<path d="M554.8 263.1 L561.0 266.6 L565.4 271.9 L574.3 276.4 L583.1 274.6 L590.2 273.7 L597.3 271.9 L604.4 260.4 L595.5 257.8 L590.2 253.3 L589.3 247.1" fill="none" stroke="#ffffff" stroke-width="1.15" stroke-linejoin="round" stroke-linecap="round"/>
<path d="M583.1 274.6 L583.1 286.1" fill="none" stroke="#ffffff" stroke-width="1.15" stroke-linejoin="round" stroke-linecap="round"/>
<path d="M554.8 263.1 L553.0 276.4" fill="none" stroke="#ffffff" stroke-width="1.15" stroke-linejoin="round" stroke-linecap="round"/>
<path d="M565.4 271.9 L560.1 276.4 L561.9 283.4 L558.3 293.2 L547.7 294.9 L544.2 302.9 L543.3 315.0" fill="none" stroke="#ffffff" stroke-width="1.15" stroke-linejoin="round" stroke-linecap="round"/>
<path d="M558.3 293.2 L565.4 297.6 L573.0 302.9" fill="none" stroke="#ffffff" stroke-width="1.15" stroke-linejoin="round" stroke-linecap="round"/>
<path d="M604.4 260.4 L609.7 255.1 L609.7 250.7" fill="none" stroke="#ffffff" stroke-width="1.15" stroke-linejoin="round" stroke-linecap="round"/>
<path d="M491.6 286.2 L490.7 293.7 L486.0 297.4 L481.3 299.3 L480.4 303.0" fill="none" stroke="#ffffff" stroke-width="1.15" stroke-linejoin="round" stroke-linecap="round"/>
<path d="M502.8 286.2 L500.9 293.7 L495.3 299.3 L489.7 306.8 L485.0 310.5" fill="none" stroke="#ffffff" stroke-width="1.15" stroke-linejoin="round" stroke-linecap="round"/>
<path d="M485.0 312.4 L497.2 312.0 L501.9 318.9 L510.3 316.1 L515.9 318.0 L517.8 331.1 L523.4 331.1 L523.4 336.7 L516.8 337.6" fill="none" stroke="#ffffff" stroke-width="1.15" stroke-linejoin="round" stroke-linecap="round"/>
<path d="M516.8 337.6 L516.8 347.9 L521.5 354.4 L512.1 355.4 L500.9 353.5 L487.9 351.6 L482.2 351.6" fill="none" stroke="#ffffff" stroke-width="1.15" stroke-linejoin="round" stroke-linecap="round"/>
<path d="M523.4 331.1 L530.8 332.0 L538.3 334.8 L542.1 338.6 L543.9 334.8 L539.3 331.1 L540.2 321.7 L545.8 319.9" fill="none" stroke="#ffffff" stroke-width="1.15" stroke-linejoin="round" stroke-linecap="round"/>
<path d="M545.8 319.9 L542.1 310.5 L543.0 299.3 L544.9 293.7 L543.9 286.2" fill="none" stroke="#ffffff" stroke-width="1.15" stroke-linejoin="round" stroke-linecap="round"/>
<path d="M545.8 319.9 L553.3 323.6 L556.1 331.1 L554.2 340.4 L545.8 344.2 L538.3 349.8 L530.8 355.4 L521.5 354.4" fill="none" stroke="#ffffff" stroke-width="1.15" stroke-linejoin="round" stroke-linecap="round"/>
<path d="M544.9 293.7 L558.9 292.8 L572.9 303.0" fill="none" stroke="#ffffff" stroke-width="1.15" stroke-linejoin="round" stroke-linecap="round"/>
<path d="M558.9 292.8 L560.7 286.2" fill="none" stroke="#ffffff" stroke-width="1.15" stroke-linejoin="round" stroke-linecap="round"/>
<path d="M556.1 331.1 L560.7 332.9 L572.9 331.1" fill="none" stroke="#ffffff" stroke-width="1.15" stroke-linejoin="round" stroke-linecap="round"/>
<path d="M557.0 325.5 L558.9 331.1 L558.9 338.6 L561.7 346.0 L560.7 349.8 L558.9 344.2 L556.1 338.6 L555.1 331.1 L557.0 325.5" fill="none" stroke="#ffffff" stroke-width="1.15" stroke-linejoin="round" stroke-linecap="round"/>
<path d="M512.1 355.4 L512.1 370.0" fill="none" stroke="#ffffff" stroke-width="1.15" stroke-linejoin="round" stroke-linecap="round"/>
<path d="M527.1 354.4 L530.8 361.0 L538.3 368.5" fill="none" stroke="#ffffff" stroke-width="1.15" stroke-linejoin="round" stroke-linecap="round"/>
<path d="M545.8 344.2 L553.3 347.9 L553.3 357.2 L549.5 366.6 L545.8 370.0" fill="none" stroke="#ffffff" stroke-width="1.15" stroke-linejoin="round" stroke-linecap="round"/>
<path d="M543.9 294.6 L547.7 295.6 L546.7 303.0 L543.6 303.0 L543.9 294.6" fill="none" stroke="#ffffff" stroke-width="1.15" stroke-linejoin="round" stroke-linecap="round"/>
<path d="M481.4 351.8 L490.2 353.2 L500.8 352.7 L507.9 355.0 L515.0 355.7 L522.1 355.0 L526.5 353.5 L532.7 354.4 L538.0 350.0" fill="none" stroke="#ffffff" stroke-width="1.15" stroke-linejoin="round" stroke-linecap="round"/>
<path d="M512.3 355.7 L511.8 369.5 L508.8 370.4 L507.9 381.9 L507.6 391.6 L503.5 395.2 L497.3 392.5" fill="none" stroke="#ffffff" stroke-width="1.15" stroke-linejoin="round" stroke-linecap="round"/>
<path d="M507.9 381.9 L511.5 387.2 L516.8 382.8 L522.1 381.9 L526.5 382.8 L531.8 376.6 L538.0 372.1 L542.4 370.4" fill="none" stroke="#ffffff" stroke-width="1.15" stroke-linejoin="round" stroke-linecap="round"/>
<path d="M526.5 353.5 L530.9 360.6 L536.3 367.7 L542.4 370.4 L547.8 371.3 L552.2 362.4 L552.2 350.0" fill="none" stroke="#ffffff" stroke-width="1.15" stroke-linejoin="round" stroke-linecap="round"/>
<path d="M547.8 371.3 L549.5 380.1 L550.4 386.3" fill="none" stroke="#ffffff" stroke-width="1.15" stroke-linejoin="round" stroke-linecap="round"/>
<path d="M530.9 397.8 L535.4 394.3 L538.4 396.9 L533.6 401.4 L530.9 397.8" fill="none" stroke="#ffffff" stroke-width="1.2" stroke-linejoin="round" stroke-linecap="round"/>
<path d="M544.2 384.5 L546.9 383.3 L548.3 387.2 L545.5 388.6 L544.2 384.5" fill="none" stroke="#ffffff" stroke-width="1.2" stroke-linejoin="round" stroke-linecap="round"/>
<path d="M626.5 160.6 L640.6 160.6 L640.6 169.5 L643.3 176.6 L645.9 183.6 L649.5 188.1 L652.1 192.5 L648.6 196.0 L647.7 198.2 L640.6 197.5 L635.3 196.0 L630.0 191.6 L626.5 191.6Z" fill="#b9cffc"/>
<path d="M552.6 185.7 L560.5 185.7 L580.9 209.4 L593.5 233.0 L593.5 248.7 L584.1 250.3 L563.6 217.2Z" fill="#b9cffc"/>
<path d="M554.6 187.3 L555.0 188.9 L558.9 197.6 L563.6 207.0 L566.8 215.7 L569.9 223.5 L573.9 231.4 L579.4 237.7 L584.9 244.0 L587.2 248.3 L590.7 248.7 L590.4 245.6 L588.8 239.3 L587.2 231.4 L584.1 225.1 L577.8 215.7 L571.5 205.4 L563.6 196.8 L557.6 187.8Z" fill="#ffffff"/>
<path d="M555.0 188.1 L552.3 185.0 L549.1 181.3" fill="none" stroke="#ffffff" stroke-width="1.6" stroke-linejoin="round" stroke-linecap="round"/>
<path d="M557.3 188.1 L555.7 179.4 L556.7 173.1" fill="none" stroke="#ffffff" stroke-width="1.0" stroke-linejoin="round" stroke-linecap="round"/>
<path d="M522.9 143.2 L527.3 143.9 L526.4 147.4 L527.3 151.3 L529.8 156.2 L532.7 158.2 L522.9 159.2Z" fill="#ffffff"/>
</g>
<text x="12.3" y="12" font-size="12.2" fill="#111">In thousand €</text>
<g id="charts">
<rect x="15.5" y="88.5" width="212" height="122" fill="#ffffff" stroke="#fde3c5" stroke-width="1"/>
<rect x="45.5" y="100.5" width="155" height="19" fill="#fde5c9" stroke="#0e3b9a" stroke-width="1"/>
<text x="123.00" y="115.50" font-size="15" fill="#111111" text-anchor="middle" font-weight="bold">North America</text>
<rect x="40.50" y="154" width="14.8" height="30.00" fill="#fde4c8"/>
<rect x="76.90" y="156" width="14.8" height="28.00" fill="#fde4c8"/>
<rect x="113.30" y="156" width="14.8" height="28.00" fill="#fde4c8"/>
<rect x="149.70" y="155" width="14.8" height="29.00" fill="#fde4c8"/>
<rect x="186.10" y="154.5" width="14.8" height="29.50" fill="#fde4c8"/>
<path d="M29.60 184.5 H211.60" stroke="#808080" stroke-width="1" fill="none"/>
<path d="M29.5 184 v4M66.5 184 v4M102.5 184 v4M138.5 184 v4M175.5 184 v4M211.5 184 v4" stroke="#808080" stroke-width="1" fill="none"/>
<text transform="translate(46.30,145.00) scale(0.875,1)" font-size="10.4" fill="#000" text-anchor="middle" stroke="#000" stroke-width="0.18">602</text>
<text transform="translate(47.80,201.00) scale(0.865,1)" font-size="10.4" fill="#000" text-anchor="middle" stroke="#000" stroke-width="0.18">2018</text>
<text transform="translate(84.20,145.00) scale(0.875,1)" font-size="10.4" fill="#000" text-anchor="middle" stroke="#000" stroke-width="0.18">561</text>
<text transform="translate(84.20,201.00) scale(0.865,1)" font-size="10.4" fill="#000" text-anchor="middle" stroke="#000" stroke-width="0.18">2020</text>
<text transform="translate(120.60,145.00) scale(0.875,1)" font-size="10.4" fill="#000" text-anchor="middle" stroke="#000" stroke-width="0.18">570</text>
<text transform="translate(120.60,201.00) scale(0.865,1)" font-size="10.4" fill="#000" text-anchor="middle" stroke="#000" stroke-width="0.18">2022</text>
<text transform="translate(157.00,146.00) scale(0.875,1)" font-size="10.4" fill="#000" text-anchor="middle" stroke="#000" stroke-width="0.18">593</text>
<text transform="translate(157.00,201.00) scale(0.865,1)" font-size="10.4" fill="#000" text-anchor="middle" stroke="#000" stroke-width="0.18">2024</text>
<text transform="translate(193.40,146.50) scale(0.875,1)" font-size="10.4" fill="#000" text-anchor="middle" stroke="#000" stroke-width="0.18">599</text>
<text transform="translate(193.40,201.00) scale(0.865,1)" font-size="10.4" fill="#000" text-anchor="middle" stroke="#000" stroke-width="0.18">2025</text>
<rect x="310.5" y="19.5" width="213" height="140" fill="#ffffff" stroke="#7030a0" stroke-width="1"/>
<rect x="341.5" y="33.5" width="154" height="19" fill="#7030a0" stroke="#0e3b9a" stroke-width="1"/>
<text x="418.50" y="48.20" font-size="15" fill="#ffffff" text-anchor="middle" font-weight="bold">Europe</text>
<rect x="337.30" y="100" width="14.8" height="32.00" fill="#7030a0"/>
<rect x="373.70" y="97" width="14.8" height="35.00" fill="#7030a0"/>
<rect x="410.10" y="95" width="14.8" height="37.00" fill="#7030a0"/>
<rect x="446.50" y="93.5" width="14.8" height="38.50" fill="#7030a0"/>
<rect x="482.90" y="93.5" width="14.8" height="38.50" fill="#7030a0"/>
<path d="M326.40 132.5 H508.40" stroke="#808080" stroke-width="1" fill="none"/>
<path d="M326.5 132 v4M362.5 132 v4M399.5 132 v4M435.5 132 v4M472.5 132 v4M508.5 132 v4" stroke="#808080" stroke-width="1" fill="none"/>
<text transform="translate(345.20,96.00) scale(0.875,1)" font-size="10.4" fill="#000" text-anchor="middle" stroke="#000" stroke-width="0.18">662</text>
<text transform="translate(344.60,150.00) scale(0.865,1)" font-size="10.4" fill="#000" text-anchor="middle" stroke="#000" stroke-width="0.18">2018</text>
<text transform="translate(381.60,93.60) scale(0.875,1)" font-size="10.4" fill="#000" text-anchor="middle" stroke="#000" stroke-width="0.18">724</text>
<text transform="translate(381.00,150.00) scale(0.865,1)" font-size="10.4" fill="#000" text-anchor="middle" stroke="#000" stroke-width="0.18">2020</text>
<text transform="translate(418.00,92.20) scale(0.875,1)" font-size="10.4" fill="#000" text-anchor="middle" stroke="#000" stroke-width="0.18">767</text>
<text transform="translate(417.40,150.00) scale(0.865,1)" font-size="10.4" fill="#000" text-anchor="middle" stroke="#000" stroke-width="0.18">2022</text>
<text transform="translate(454.40,91.20) scale(0.875,1)" font-size="10.4" fill="#000" text-anchor="middle" stroke="#000" stroke-width="0.18">806</text>
<text transform="translate(453.80,150.00) scale(0.865,1)" font-size="10.4" fill="#000" text-anchor="middle" stroke="#000" stroke-width="0.18">2024</text>
<text transform="translate(490.80,91.20) scale(0.875,1)" font-size="10.4" fill="#000" text-anchor="middle" stroke="#000" stroke-width="0.18">797</text>
<text transform="translate(490.20,150.00) scale(0.865,1)" font-size="10.4" fill="#000" text-anchor="middle" stroke="#000" stroke-width="0.18">2025</text>
<rect x="591.5" y="11.5" width="212" height="150" fill="#ffffff" stroke="#e68a00" stroke-width="1"/>
<rect x="621.5" y="25.5" width="154" height="19" fill="#e48600" stroke="#0e3b9a" stroke-width="1"/>
<text transform="translate(698.50,39.10) scale(0.945,1)" font-size="14.3" fill="#ffffff" text-anchor="middle" font-weight="bold">China</text>
<rect x="616.90" y="66" width="14.8" height="73.00" fill="#e48600"/>
<rect x="653.30" y="76.5" width="14.8" height="62.50" fill="#e48600"/>
<rect x="689.70" y="89" width="14.8" height="50.00" fill="#e48600"/>
<rect x="726.10" y="78" width="14.8" height="61.00" fill="#e48600"/>
<rect x="762.50" y="75.5" width="14.8" height="63.50" fill="#e48600"/>
<path d="M606.00 139.5 H788.00" stroke="#808080" stroke-width="1" fill="none"/>
<path d="M606.5 139 v4M642.5 139 v4M678.5 139 v4M715.5 139 v4M751.5 139 v4M788.5 139 v4" stroke="#808080" stroke-width="1" fill="none"/>
<text transform="translate(624.50,60.00) scale(0.86,1)" font-size="10.4" fill="#000" text-anchor="middle" stroke="#000" stroke-width="0.05">1,502</text>
<text transform="translate(624.20,156.00) scale(0.865,1)" font-size="10.4" fill="#000" text-anchor="middle" stroke="#000" stroke-width="0.18">2018</text>
<text transform="translate(659.00,69.00) scale(0.86,1)" font-size="10.4" fill="#000" text-anchor="middle" stroke="#000" stroke-width="0.05">1,286</text>
<text transform="translate(660.60,156.00) scale(0.865,1)" font-size="10.4" fill="#000" text-anchor="middle" stroke="#000" stroke-width="0.18">2020</text>
<text transform="translate(697.60,82.00) scale(0.86,1)" font-size="10.4" fill="#000" text-anchor="middle" stroke="#000" stroke-width="0.05">1,045</text>
<text transform="translate(697.00,156.00) scale(0.865,1)" font-size="10.4" fill="#000" text-anchor="middle" stroke="#000" stroke-width="0.18">2022</text>
<text transform="translate(733.90,73.00) scale(0.86,1)" font-size="10.4" fill="#000" text-anchor="middle" stroke="#000" stroke-width="0.05">1,267</text>
<text transform="translate(733.40,156.00) scale(0.865,1)" font-size="10.4" fill="#000" text-anchor="middle" stroke="#000" stroke-width="0.18">2024</text>
<text transform="translate(770.10,69.00) scale(0.86,1)" font-size="10.4" fill="#000" text-anchor="middle" stroke="#000" stroke-width="0.05">1,301</text>
<text transform="translate(769.80,156.00) scale(0.865,1)" font-size="10.4" fill="#000" text-anchor="middle" stroke="#000" stroke-width="0.18">2025</text>
<rect x="794.5" y="172.5" width="213" height="111" fill="#ffffff" stroke="#0e3b9a" stroke-width="1"/>
<rect x="811.5" y="182.5" width="179" height="20" fill="#6079a9" stroke="#0e3b9a" stroke-width="1"/>
<text x="901.00" y="197.70" font-size="15" fill="#ffffff" text-anchor="middle" font-weight="bold">Japan/ Korea</text>
<rect x="825.90" y="245" width="14.8" height="13.00" fill="#6079a9"/>
<rect x="862.30" y="245.5" width="14.8" height="12.50" fill="#6079a9"/>
<rect x="898.70" y="245.5" width="14.8" height="12.50" fill="#6079a9"/>
<rect x="935.10" y="245.7" width="14.8" height="12.30" fill="#6079a9"/>
<rect x="971.50" y="246" width="14.8" height="12.00" fill="#6079a9"/>
<path d="M815.00 258.5 H997.00" stroke="#808080" stroke-width="1" fill="none"/>
<path d="M815.5 258 v4M851.5 258 v4M887.5 258 v4M924.5 258 v4M960.5 258 v4M997.5 258 v4" stroke="#808080" stroke-width="1" fill="none"/>
<text transform="translate(833.20,231.00) scale(0.875,1)" font-size="10.4" fill="#000" text-anchor="middle" stroke="#000" stroke-width="0.18">271</text>
<text transform="translate(833.20,275.00) scale(0.865,1)" font-size="10.4" fill="#000" text-anchor="middle" stroke="#000" stroke-width="0.18">2018</text>
<text transform="translate(869.60,232.00) scale(0.875,1)" font-size="10.4" fill="#000" text-anchor="middle" stroke="#000" stroke-width="0.18">259</text>
<text transform="translate(869.60,275.00) scale(0.865,1)" font-size="10.4" fill="#000" text-anchor="middle" stroke="#000" stroke-width="0.18">2020</text>
<text transform="translate(906.00,235.00) scale(0.875,1)" font-size="10.4" fill="#000" text-anchor="middle" stroke="#000" stroke-width="0.18">260</text>
<text transform="translate(906.00,275.00) scale(0.865,1)" font-size="10.4" fill="#000" text-anchor="middle" stroke="#000" stroke-width="0.18">2022</text>
<text transform="translate(942.40,235.00) scale(0.875,1)" font-size="10.4" fill="#000" text-anchor="middle" stroke="#000" stroke-width="0.18">254</text>
<text transform="translate(942.40,275.00) scale(0.865,1)" font-size="10.4" fill="#000" text-anchor="middle" stroke="#000" stroke-width="0.18">2024</text>
<text transform="translate(978.80,236.00) scale(0.875,1)" font-size="10.4" fill="#000" text-anchor="middle" stroke="#000" stroke-width="0.18">251</text>
<text transform="translate(978.80,275.00) scale(0.865,1)" font-size="10.4" fill="#000" text-anchor="middle" stroke="#000" stroke-width="0.18">2025</text>
<rect x="341.5" y="189.5" width="212" height="97" fill="#ffffff" stroke="#4f79b4" stroke-width="1"/>
<rect x="371.5" y="202.5" width="154" height="19" fill="#bcd0fb" stroke="#bcd0fb" stroke-width="1"/>
<text transform="translate(448.50,216.50) scale(0.945,1)" font-size="14.3" fill="#ffffff" text-anchor="middle" font-weight="bold">Middle East / Africa</text>
<rect x="367.90" y="259" width="14.8" height="2.00" fill="#bcd0fb"/>
<rect x="404.30" y="259" width="14.8" height="2.00" fill="#bcd0fb"/>
<rect x="440.70" y="259" width="14.8" height="2.00" fill="#bcd0fb"/>
<rect x="477.10" y="259" width="14.8" height="2.00" fill="#bcd0fb"/>
<rect x="513.50" y="259" width="14.8" height="2.00" fill="#bcd0fb"/>
<path d="M357.00 261.5 H539.00" stroke="#808080" stroke-width="1" fill="none"/>
<path d="M357.5 261 v4M393.5 261 v4M429.5 261 v4M466.5 261 v4M502.5 261 v4M539.5 261 v4" stroke="#808080" stroke-width="1" fill="none"/>
<text transform="translate(375.20,252.00) scale(0.875,1)" font-size="10.4" fill="#000" text-anchor="middle" stroke="#000" stroke-width="0.18">1</text>
<text transform="translate(375.20,278.00) scale(0.865,1)" font-size="10.4" fill="#000" text-anchor="middle" stroke="#000" stroke-width="0.18">2018</text>
<text transform="translate(411.60,255.00) scale(0.875,1)" font-size="10.4" fill="#000" text-anchor="middle" stroke="#000" stroke-width="0.18">1</text>
<text transform="translate(411.60,278.00) scale(0.865,1)" font-size="10.4" fill="#000" text-anchor="middle" stroke="#000" stroke-width="0.18">2020</text>
<text transform="translate(448.00,255.00) scale(0.875,1)" font-size="10.4" fill="#000" text-anchor="middle" stroke="#000" stroke-width="0.18">1</text>
<text transform="translate(448.00,278.00) scale(0.865,1)" font-size="10.4" fill="#000" text-anchor="middle" stroke="#000" stroke-width="0.18">2022</text>
<text transform="translate(484.40,255.00) scale(0.875,1)" font-size="10.4" fill="#000" text-anchor="middle" stroke="#000" stroke-width="0.18">1</text>
<text transform="translate(484.40,278.00) scale(0.865,1)" font-size="10.4" fill="#000" text-anchor="middle" stroke="#000" stroke-width="0.18">2024</text>
<text transform="translate(520.80,255.00) scale(0.875,1)" font-size="10.4" fill="#000" text-anchor="middle" stroke="#000" stroke-width="0.18">1</text>
<text transform="translate(520.80,278.00) scale(0.865,1)" font-size="10.4" fill="#000" text-anchor="middle" stroke="#000" stroke-width="0.18">2025</text>
<rect x="136.5" y="320.5" width="212" height="108" fill="#ffffff" stroke="#0e3b9a" stroke-width="1"/>
<rect x="168.5" y="331.5" width="155" height="20" fill="#5b80b8" stroke="#0e3b9a" stroke-width="1"/>
<text transform="translate(246.00,347.00) scale(0.945,1)" font-size="14.3" fill="#ffffff" text-anchor="middle" font-weight="bold">Latin America</text>
<rect x="162.30" y="391.2" width="14.8" height="6.80" fill="#5b80b8"/>
<rect x="198.70" y="390" width="14.8" height="8.00" fill="#5b80b8"/>
<rect x="235.10" y="389" width="14.8" height="9.00" fill="#5b80b8"/>
<rect x="271.50" y="391" width="14.8" height="7.00" fill="#5b80b8"/>
<rect x="307.90" y="390.5" width="14.8" height="7.50" fill="#5b80b8"/>
<path d="M151.40 398.5 H333.40" stroke="#808080" stroke-width="1" fill="none"/>
<path d="M151.5 398 v4M187.5 398 v4M224.5 398 v4M260.5 398 v4M297.5 398 v4M333.5 398 v4" stroke="#808080" stroke-width="1" fill="none"/>
<text transform="translate(169.60,384.00) scale(0.875,1)" font-size="10.4" fill="#000" text-anchor="middle" stroke="#000" stroke-width="0.18">141</text>
<text transform="translate(169.60,415.00) scale(0.865,1)" font-size="10.4" fill="#000" text-anchor="middle" stroke="#000" stroke-width="0.18">2018</text>
<text transform="translate(206.00,384.00) scale(0.875,1)" font-size="10.4" fill="#000" text-anchor="middle" stroke="#000" stroke-width="0.18">169</text>
<text transform="translate(206.00,415.00) scale(0.865,1)" font-size="10.4" fill="#000" text-anchor="middle" stroke="#000" stroke-width="0.18">2020</text>
<text transform="translate(242.40,384.00) scale(0.875,1)" font-size="10.4" fill="#000" text-anchor="middle" stroke="#000" stroke-width="0.18">193</text>
<text transform="translate(242.40,415.00) scale(0.865,1)" font-size="10.4" fill="#000" text-anchor="middle" stroke="#000" stroke-width="0.18">2022</text>
<text transform="translate(278.80,386.20) scale(0.875,1)" font-size="10.4" fill="#000" text-anchor="middle" stroke="#000" stroke-width="0.18">151</text>
<text transform="translate(278.80,415.00) scale(0.865,1)" font-size="10.4" fill="#000" text-anchor="middle" stroke="#000" stroke-width="0.18">2024</text>
<text transform="translate(315.20,386.20) scale(0.875,1)" font-size="10.4" fill="#000" text-anchor="middle" stroke="#000" stroke-width="0.18">160</text>
<text transform="translate(315.20,415.00) scale(0.865,1)" font-size="10.4" fill="#000" text-anchor="middle" stroke="#000" stroke-width="0.18">2025</text>
<rect x="573.5" y="287.5" width="212" height="137" fill="#ffffff" stroke="#6fa01f" stroke-width="1"/>
<rect x="602.5" y="299.5" width="154" height="19" fill="#99d02e" stroke="#99d02e" stroke-width="1"/>
<text x="679.50" y="313.60" font-size="14.9" fill="#ffffff" text-anchor="middle" font-weight="bold">South East Asia</text>
<rect x="600.40" y="357.5" width="14.8" height="33.50" fill="#99d02e"/>
<rect x="636.80" y="358" width="14.8" height="33.00" fill="#99d02e"/>
<rect x="673.20" y="358" width="14.8" height="33.00" fill="#99d02e"/>
<rect x="709.60" y="357" width="14.8" height="34.00" fill="#99d02e"/>
<rect x="746.00" y="356.5" width="14.8" height="34.50" fill="#99d02e"/>
<path d="M589.50 391.5 H771.50" stroke="#808080" stroke-width="1" fill="none"/>
<path d="M589.5 391 v4M625.5 391 v4M662.5 391 v4M698.5 391 v4M735.5 391 v4M771.5 391 v4" stroke="#808080" stroke-width="1" fill="none"/>
<text transform="translate(607.70,351.00) scale(0.875,1)" font-size="10.4" fill="#000" text-anchor="middle" stroke="#000" stroke-width="0.18">696</text>
<text transform="translate(607.70,409.00) scale(0.865,1)" font-size="10.4" fill="#000" text-anchor="middle" stroke="#000" stroke-width="0.18">2018</text>
<text transform="translate(644.10,354.60) scale(0.875,1)" font-size="10.4" fill="#000" text-anchor="middle" stroke="#000" stroke-width="0.18">683</text>
<text transform="translate(644.10,409.00) scale(0.865,1)" font-size="10.4" fill="#000" text-anchor="middle" stroke="#000" stroke-width="0.18">2020</text>
<text transform="translate(680.50,354.00) scale(0.875,1)" font-size="10.4" fill="#000" text-anchor="middle" stroke="#000" stroke-width="0.18">688</text>
<text transform="translate(680.50,409.00) scale(0.865,1)" font-size="10.4" fill="#000" text-anchor="middle" stroke="#000" stroke-width="0.18">2022</text>
<text transform="translate(716.90,353.00) scale(0.875,1)" font-size="10.4" fill="#000" text-anchor="middle" stroke="#000" stroke-width="0.18">703</text>
<text transform="translate(716.90,409.00) scale(0.865,1)" font-size="10.4" fill="#000" text-anchor="middle" stroke="#000" stroke-width="0.18">2024</text>
<text transform="translate(753.30,352.00) scale(0.875,1)" font-size="10.4" fill="#000" text-anchor="middle" stroke="#000" stroke-width="0.18">713</text>
<text transform="translate(753.30,409.00) scale(0.865,1)" font-size="10.4" fill="#000" text-anchor="middle" stroke="#000" stroke-width="0.18">2025</text>
</g>
</svg>
</body></html>
